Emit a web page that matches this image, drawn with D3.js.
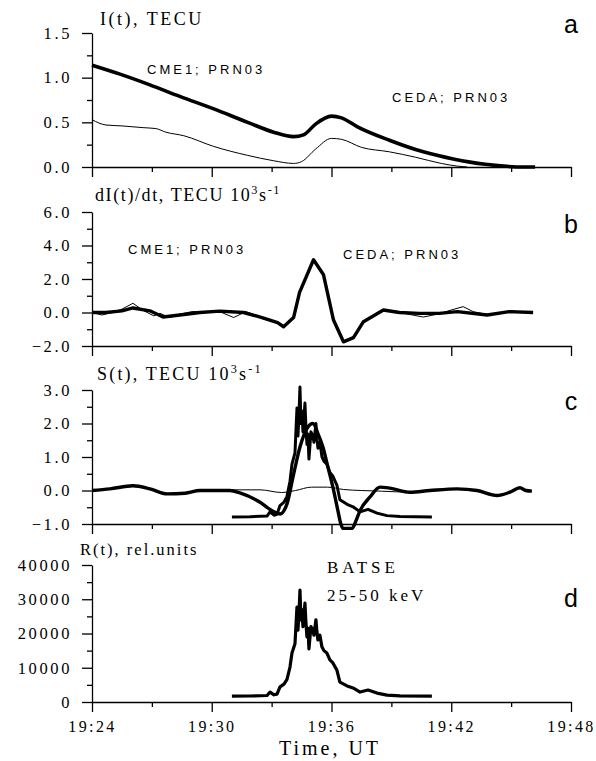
<!DOCTYPE html>
<html>
<head>
<meta charset="utf-8">
<script src="https://cdn.jsdelivr.net/npm/d3@7"></script>
<style>
  body { margin: 0; background: #fff; }
  svg { display: block; }
</style>
</head>
<body>
<div id="chart"></div>
<script>
// time is minutes after 19:00 UT
const xTicks = [24, 30, 36, 42, 48];
const xMinor = [27, 33, 39, 45];

// (a) I(t), TECU
const iThick = [[24.0,1.14],[25.4,1.04],[26.9,0.92],[28.4,0.79],[30.1,0.65],[31.8,0.50],[33.1,0.39],[34.1,0.34],[34.6,0.36],[35.2,0.48],[36.0,0.57],[36.5,0.55],[37.3,0.45],[38.9,0.30],[40.6,0.17],[42.1,0.09],[43.7,0.03],[45.7,0.0],[46.2,0.0]];
const iThin = [[24.0,0.53],[24.7,0.47],[25.5,0.46],[26.6,0.44],[27.2,0.43],[27.7,0.39],[28.6,0.35],[30.1,0.23],[31.8,0.13],[33.1,0.07],[34.1,0.04],[34.5,0.06],[35.2,0.20],[36.0,0.32],[36.5,0.31],[37.5,0.22],[38.9,0.17],[40.2,0.11],[41.5,0.04],[42.3,0.01],[42.8,0.0]];

// (b) dI(t)/dt
const dThick = [[24.0,0],[24.7,0],[25.5,0.1],[26.05,0.27],[26.9,0.1],[27.56,-0.27],[28.4,-0.15],[29.4,0],[30.4,0.08],[31.6,0],[32.6,-0.33],[33.3,-0.6],[33.6,-0.85],[34.1,-0.3],[34.4,1.2],[35.1,3.15],[35.6,2.25],[36.1,-0.45],[36.6,-1.75],[37.1,-1.5],[37.6,-0.55],[38.6,0.15],[39.4,0],[40.4,-0.05],[41.4,-0.05],[42.3,0.05],[43.8,-0.15],[44.9,0.05],[46.1,0]];
const dThin = [[24.0,0],[24.5,-0.15],[25.0,0],[25.5,0.2],[26.05,0.55],[26.6,0.1],[27.1,-0.2],[27.4,-0.05],[27.9,-0.3],[28.4,-0.1],[29.0,0.05],[30.0,0.05],[30.5,0],[31.1,-0.3],[31.7,0.05],[32.2,-0.15],[32.6,-0.4],[33.3,-0.6],[33.6,-0.85],[34.1,-0.3],[34.4,1.2],[35.1,3.1],[35.6,2.2],[36.1,-0.45],[36.6,-1.7],[37.1,-1.45],[37.6,-0.55],[38.6,0.12],[39.4,0],[40.6,-0.27],[41.4,-0.08],[42.0,0.15],[42.6,0.35],[43.1,0.05],[43.8,-0.12],[44.6,0.02],[45.1,0.1],[45.6,0],[46.1,0]];

// (c) S(t)
const sThick = [[24.0,0],[24.9,0.05],[26.05,0.14],[26.9,0.05],[27.76,-0.1],[28.66,-0.08],[29.41,0],[30.91,0],[31.41,-0.07],[32.42,-0.35],[33.07,-0.62],[33.42,-0.7],[33.77,-0.4],[34.07,0.4],[34.42,1.3],[34.77,1.85],[35.07,2.0],[35.32,1.7],[35.57,1.3],[35.82,0.7],[36.07,0.1],[36.32,-0.6],[36.47,-1.0],[36.57,-1.13],[37.03,-1.13],[37.23,-0.9],[37.43,-0.6],[37.92,-0.2],[38.43,0.1],[38.93,0.07],[39.93,-0.05],[40.93,0],[42.29,0.05],[43.29,0],[44.29,-0.15],[44.94,-0.05],[45.44,0.08],[45.74,0],[46.04,-0.02]];
const sThin = [[24.0,0],[24.9,0.05],[26.05,0.12],[26.9,0.04],[27.76,-0.1],[28.66,-0.07],[29.41,0],[30.91,0.02],[32.42,0.02],[33.5,-0.06],[34.2,0],[35.0,0.1],[35.8,0.1],[36.6,0.03],[37.5,0],[38.5,-0.02],[39.93,-0.05],[40.93,0],[42.29,0.03],[43.29,-0.02],[44.29,-0.12],[44.94,-0.05],[45.44,0.07],[45.74,0.02],[46.04,-0.02]];

// (d) BATSE 25-50 keV, rel. units
const batse = [[31.01,1700],[31.92,1750],[32.77,1900],[32.92,2900],[33.12,2100],[33.27,2300],[33.42,4400],[33.62,5200],[33.77,6600],[33.92,10200],[34.02,14300],[34.17,17000],[34.27,27700],[34.32,21000],[34.37,26000],[34.42,32700],[34.47,24000],[34.52,27000],[34.57,22000],[34.67,28900],[34.72,23000],[34.77,19000],[34.82,21500],[34.87,15500],[34.97,22000],[35.07,21000],[35.12,19500],[35.22,24000],[35.27,20500],[35.32,18100],[35.42,19500],[35.52,16100],[35.62,15000],[35.77,14300],[35.92,12300],[36.07,11400],[36.27,9300],[36.42,5800],[36.78,4700],[37.08,4100],[37.43,2900],[37.83,3500],[38.28,2600],[38.78,2000],[39.43,1800],[41.03,1700]];

const W = 596, H = 761;
const serif = "'Liberation Serif', 'DejaVu Serif', serif";
const sans = "'Liberation Sans', Arial, sans-serif";

const svg = d3.select("#chart").append("svg")
  .attr("width", W).attr("height", H);

const x = d3.scaleLinear().domain([24, 48]).range([92, 571]);

// BATSE counts re-expressed in S(t) units for the overlay in panel c
const batseToS = d3.scaleLinear().domain([0, 32000]).range([-1, 3]);

function panel(o) {
  const y = d3.scaleLinear().domain(o.domain).range([o.bottom, o.top]);
  const g = svg.append("g");

  // y axis
  const ya = g.append("g").attr("transform", `translate(${x(24)},0)`)
    .call(d3.axisLeft(y).tickValues(o.major).tickSize(10).tickPadding(10)
      .tickSizeOuter(0).tickFormat(o.fmt));
  g.append("g").attr("transform", `translate(${x(24)},0)`)
    .call(d3.axisLeft(y).tickValues(o.minor).tickSize(5).tickFormat(""))
    .call(s => s.select(".domain").remove());

  // x axis
  const xa = g.append("g").attr("transform", `translate(0,${y(o.domain[0])})`)
    .call(d3.axisBottom(x).tickValues(xTicks).tickSize(10).tickPadding(9)
      .tickSizeOuter(0).tickFormat(o.last ? (d => "19:" + d) : ""));
  g.append("g").attr("transform", `translate(0,${y(o.domain[0])})`)
    .call(d3.axisBottom(x).tickValues(xMinor).tickSize(5).tickFormat(""))
    .call(s => s.select(".domain").remove());

  g.selectAll(".domain, .tick line").attr("stroke", "#000").attr("stroke-width", 1.3);
  ya.selectAll("text").attr("font-family", serif).attr("font-size", 16.5)
    .attr("fill", "#000").style("letter-spacing", "2.6px");
  xa.selectAll("text").attr("font-family", serif).attr("font-size", 16)
    .attr("fill", "#000").style("letter-spacing", "2.4px");

  o.series.forEach(s => {
    const line = d3.line()
      .x(d => x(d[0]))
      .y(d => y(s.conv ? s.conv(d[1]) : d[1]))
      .curve(s.curve || d3.curveLinear);
    g.append("path").datum(s.data)
      .attr("d", line)
      .attr("fill", "none")
      .attr("stroke", "#000")
      .attr("stroke-width", s.w)
      .attr("stroke-linejoin", "round");
  });
  return g;
}

panel({ domain: [0, 1.5], top: 33, bottom: 167, major: [0, 0.5, 1.0, 1.5],
  minor: [0.25, 0.75, 1.25], fmt: d3.format(".1f"),
  series: [
    { data: iThin, w: 1, curve: d3.curveMonotoneX },
    { data: iThick, w: 3.6, curve: d3.curveMonotoneX }
  ] });

panel({ domain: [-2, 6], top: 212, bottom: 346, major: [-2, 0, 2, 4, 6],
  minor: [-1, 1, 3, 5], fmt: d3.format(".1f"),
  series: [
    { data: dThin, w: 1 },
    { data: dThick, w: 3.4 }
  ] });

panel({ domain: [-1, 3], top: 390, bottom: 524, major: [-1, 0, 1, 2, 3],
  minor: [-0.5, 0.5, 1.5, 2.5], fmt: d3.format(".1f"),
  series: [
    { data: sThin, w: 1, curve: d3.curveMonotoneX },
    { data: sThick, w: 3.4, curve: d3.curveMonotoneX },
    { data: batse, w: 3, conv: batseToS }
  ] });

panel({ domain: [0, 40000], top: 565, bottom: 702, major: [0, 10000, 20000, 30000, 40000],
  minor: [5000, 15000, 25000, 35000], fmt: d3.format("d"), last: true,
  series: [
    { data: batse, w: 3.2 }
  ] });

// titles
function title(px, py, parts, size, ls) {
  const t = svg.append("text").attr("x", px).attr("y", py)
    .attr("font-family", serif).attr("font-size", size)
    .style("letter-spacing", ls + "px").attr("fill", "#000");
  parts.forEach(p => {
    if (typeof p === "string") t.append("tspan").text(p);
    else t.append("tspan").attr("font-size", size * 0.68)
      .attr("baseline-shift", "super").text(p.sup);
  });
}
title(100, 25, ["I(t), TECU"], 18, 2.5);
title(95, 201, ["dI(t)/dt, TECU 10", { sup: "3" }, "s", { sup: "-1" }], 18, 1.6);
title(97, 380, ["S(t), TECU 10", { sup: "3" }, "s", { sup: "-1" }], 18, 2.2);
title(80, 555, ["R(t), rel.units"], 16.5, 2);

// annotations
const note = (px, py, txt) => svg.append("text").attr("x", px).attr("y", py)
  .attr("font-family", sans).attr("font-size", 13)
  .style("letter-spacing", "3px").attr("fill", "#000").text(txt);
note(147, 74, "CME1; PRN03");
note(392, 102, "CEDA; PRN03");
note(128, 254, "CME1; PRN03");
note(343, 259, "CEDA; PRN03");

svg.append("text").attr("x", 327).attr("y", 573).attr("font-family", serif)
  .attr("font-size", 17).style("letter-spacing", "4px").text("BATSE");
svg.append("text").attr("x", 327).attr("y", 601).attr("font-family", serif)
  .attr("font-size", 17).style("letter-spacing", "3px").text("25-50 keV");

// panel letters
[["a", 33], ["b", 233], ["c", 410], ["d", 607]].forEach(([l, py]) => {
  svg.append("text").attr("x", 571).attr("y", py).attr("text-anchor", "middle")
    .attr("font-family", sans).attr("font-size", 25).text(l);
});

svg.append("text").attr("x", 330).attr("y", 755).attr("text-anchor", "middle")
  .attr("font-family", serif).attr("font-size", 20)
  .style("letter-spacing", "3px").text("Time, UT");
</script>
</body>
</html>
